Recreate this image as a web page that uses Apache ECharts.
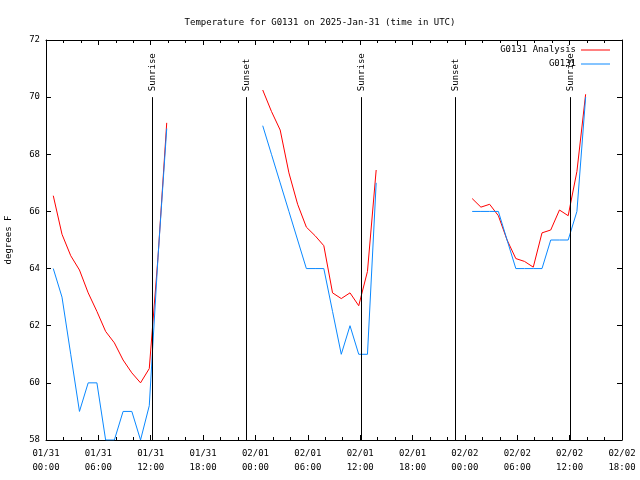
<!DOCTYPE html>
<html><head><meta charset="utf-8">
<script src="https://cdn.jsdelivr.net/npm/echarts@6/dist/echarts.min.js"></script>
<style>html,body{margin:0;padding:0;background:#fff}#c{width:640px;height:480px}</style>
</head><body><div id="c"></div><script>
const startTime = '2025-01-31T00:00';
const titleText = 'Temperature for G0131 on 2025-Jan-31 (time in UTC)';
const seriesNames = ['G0131 Analysis', 'G0131'];
const xTickLabels = ['01/31\n00:00','01/31\n06:00','01/31\n12:00','01/31\n18:00','02/01\n00:00','02/01\n06:00','02/01\n12:00','02/01\n18:00','02/02\n00:00','02/02\n06:00','02/02\n12:00','02/02\n18:00'];

const times1 = ['2025-01-31T00:50','2025-01-31T01:50','2025-01-31T02:50','2025-01-31T03:50','2025-01-31T04:50','2025-01-31T05:50','2025-01-31T06:50','2025-01-31T07:50','2025-01-31T08:50','2025-01-31T09:50','2025-01-31T10:50','2025-01-31T11:50','2025-01-31T12:50','2025-01-31T13:50'];
const times2 = ['2025-02-01T00:50','2025-02-01T01:50','2025-02-01T02:50','2025-02-01T03:50','2025-02-01T04:50','2025-02-01T05:50','2025-02-01T06:50','2025-02-01T07:50','2025-02-01T08:50','2025-02-01T09:50','2025-02-01T10:50','2025-02-01T11:50','2025-02-01T12:50','2025-02-01T13:50'];
const times3 = ['2025-02-02T00:50','2025-02-02T01:50','2025-02-02T02:50','2025-02-02T03:50','2025-02-02T04:50','2025-02-02T05:50','2025-02-02T06:50','2025-02-02T07:50','2025-02-02T08:50','2025-02-02T09:50','2025-02-02T10:50','2025-02-02T11:50','2025-02-02T12:50','2025-02-02T13:50'];

const analysis1 = [66.55,65.2,64.45,63.95,63.15,62.5,61.8,61.4,60.8,60.35,60.0,60.5,64.4,69.1];
const analysis2 = [70.25,69.5,68.85,67.35,66.25,65.45,65.15,64.8,63.15,62.95,63.15,62.7,63.9,67.45];
const analysis3 = [66.45,66.15,66.25,65.85,65.0,64.35,64.25,64.05,65.25,65.35,66.05,65.85,67.4,70.1];

const obs1 = [64,63,61,59,60,60,58,58,59,59,58,59.2,64.4,68.9];
const obs2 = [69,68,67,66,65,64,64,64,62.5,61,62,61,61,67.0];
const obs3 = [66,66,66,66,65,64,64,64,64,65,65,65,66.0,70.0];

const sunTimes = ['2025-01-31T12:09','2025-01-31T22:55','2025-02-01T12:05','2025-02-01T22:52','2025-02-02T12:02'];
const sunLabels = ['Sunrise','Sunset','Sunrise','Sunset','Sunrise'];

const FONT = 'DejaVu Sans Mono';
const toHours = t => (Date.parse(t + ':00Z') - Date.parse(startTime + ':00Z')) / 3600000;

function build(timesList, valsList) {
  const out = [];
  timesList.forEach((times, s) => {
    if (s > 0) out.push([toHours(times[0]) - 0.5, null]);
    times.forEach((t, i) => out.push([toHours(t), valsList[s][i]]));
  });
  return out;
}
const allTimes = [times1, times2, times3];
const redData = build(allTimes, [analysis1, analysis2, analysis3]);
const blueData = build(allTimes, [obs1, obs2, obs3]);
const sunData = sunTimes.map(t => [toHours(t)]);

const axisCommonX = {
  type: 'value', min: 0, max: 66, interval: 6,
  axisLine: {show: true, onZero: false, lineStyle: {color: '#000', width: 1}},
  axisTick: {show: true, inside: true, length: 5, lineStyle: {color: '#000'}},
  minorTick: {show: true, splitNumber: 3, length: 3, lineStyle: {color: '#000'}},
  splitLine: {show: false}, minorSplitLine: {show: false}
};
const axisCommonY = {
  type: 'value', min: 58, max: 72, interval: 2,
  axisLine: {show: true, onZero: false, lineStyle: {color: '#000', width: 1}},
  axisTick: {show: true, inside: true, length: 5, lineStyle: {color: '#000'}},
  splitLine: {show: false}
};

const chart = echarts.init(document.getElementById('c'), null, {renderer: 'canvas'});
chart.setOption({
  animation: false,
  backgroundColor: '#fff',
  title: {text: titleText, left: 'center', top: 13,
    textStyle: {fontFamily: FONT, fontSize: 9, fontWeight: 'normal', color: '#000'}},
  legend: {
    data: seriesNames, orient: 'vertical', right: 30, top: 45, align: 'right', padding: 0,
    icon: 'rect', itemWidth: 29, itemHeight: 1, itemGap: 4,
    textStyle: {fontFamily: FONT, fontSize: 9, color: '#000', lineHeight: 10}
  },
  grid: {left: 46, right: 18, top: 40, bottom: 40, containLabel: false, outerBoundsMode: 'none'},
  xAxis: [
    Object.assign({}, axisCommonX, {position: 'bottom',
      axisLabel: {formatter: v => xTickLabels[Math.round(v / 6)], fontFamily: FONT, fontSize: 9, color: '#000', lineHeight: 14, margin: 7}}),
    Object.assign({}, axisCommonX, {position: 'top', axisLabel: {show: false}})
  ],
  yAxis: [
    Object.assign({}, axisCommonY, {position: 'left',
      name: 'degrees F', nameLocation: 'middle', nameGap: 33, nameRotate: 90,
      nameTextStyle: {fontFamily: FONT, fontSize: 9, color: '#000'},
      axisLabel: {fontFamily: FONT, fontSize: 9, color: '#000', margin: 6}}),
    Object.assign({}, axisCommonY, {position: 'right', axisLabel: {show: false}})
  ],
  series: [
    {name: seriesNames[0], type: 'line', data: redData, showSymbol: false, symbol: 'none',
      connectNulls: false, lineStyle: {color: '#ff0000', width: 1}, itemStyle: {color: '#ff0000'}},
    {name: seriesNames[1], type: 'line', data: blueData, showSymbol: false, symbol: 'none',
      connectNulls: false, lineStyle: {color: '#0a88ff', width: 1}, itemStyle: {color: '#0a88ff'}},
    {name: 'sun', type: 'custom', data: sunData, z: 5, clip: false,
      renderItem: function (params, api) {
        const x = api.value(0);
        const b = api.coord([x, 58]);
        const t = api.coord([x, 70]);
        const px = Math.round(b[0]) + 0.5;
        return {type: 'group', children: [
          {type: 'line', shape: {x1: px, y1: b[1], x2: px, y2: t[1]}, style: {stroke: '#000', lineWidth: 1}},
          {type: 'text', x: px, y: t[1] - 6, rotation: Math.PI / 2,
            style: {text: sunLabels[params.dataIndex], textAlign: 'left', textVerticalAlign: 'middle',
              fontFamily: FONT, fontSize: 9, fill: '#000'}}
        ]};
      }}
  ]
});
</script></body></html>
